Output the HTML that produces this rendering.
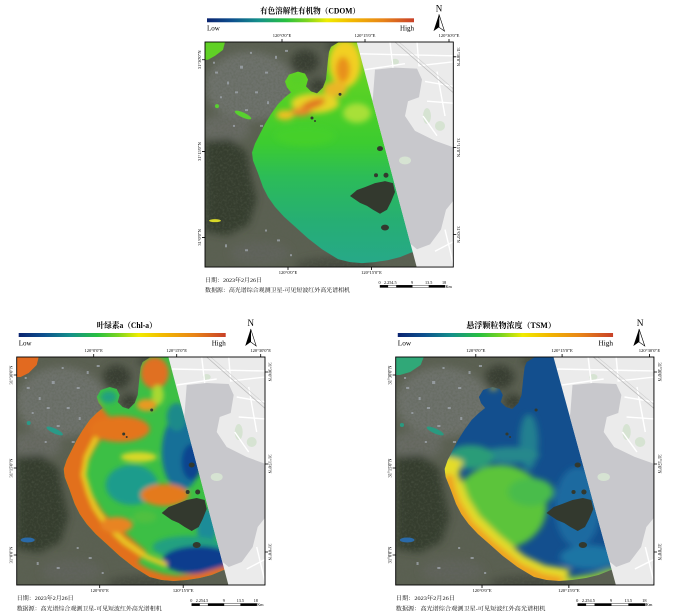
<!DOCTYPE html>
<html><head><meta charset="utf-8"><style>
html,body{margin:0;padding:0;background:#fff;width:673px;height:615px;overflow:hidden}
svg{display:block}
text{font-family:"Liberation Serif","Noto Serif CJK SC",serif;fill:#000}
</style></head><body>
<svg width="673" height="615" viewBox="0 0 673 615" xmlns="http://www.w3.org/2000/svg">
<defs>
<linearGradient id="cb" x1="0" y1="0" x2="1" y2="0">
<stop offset="0" stop-color="#0b2470"/><stop offset=".12" stop-color="#0d4f8e"/><stop offset=".25" stop-color="#14908a"/>
<stop offset=".38" stop-color="#28c040"/><stop offset=".48" stop-color="#7ad420"/><stop offset=".58" stop-color="#f0ec00"/>
<stop offset=".7" stop-color="#f2b800"/><stop offset=".85" stop-color="#e88418"/><stop offset="1" stop-color="#c84028"/>
</linearGradient>
<linearGradient id="gC" gradientUnits="userSpaceOnUse" x1="0" y1="0" x2="0" y2="228">
<stop offset="0" stop-color="#78d620"/><stop offset=".3" stop-color="#4ccf28"/><stop offset=".45" stop-color="#3ccc30"/>
<stop offset=".6" stop-color="#2cbc58"/><stop offset=".8" stop-color="#26ae74"/><stop offset="1" stop-color="#27a88a"/>
</linearGradient>
<filter id="b2" x="-30%" y="-30%" width="160%" height="160%"><feGaussianBlur stdDeviation="2.5"/></filter>
<filter id="b3" x="-30%" y="-30%" width="160%" height="160%"><feGaussianBlur stdDeviation="3"/></filter>
<filter id="b4" x="-30%" y="-30%" width="160%" height="160%"><feGaussianBlur stdDeviation="4"/></filter>
<filter id="tx" x="0" y="0" width="100%" height="100%">
<feTurbulence type="fractalNoise" baseFrequency="0.45" numOctaves="2" seed="5"/>
<feColorMatrix type="matrix" values="0 0 0 0 0.1  0 0 0 0 0.12  0 0 0 0 0.08  0 0 0 -2.2 1.3"/>
</filter>
<clipPath id="lk"><path d="M126,5 L134,0 L248.3,0 L248.3,228 L215,214 L207,213 L195,218 L183,221 L170,223 L157,224 L145,223 L133,220 L117,210 L103,199 L90,187 L79,177 L70,167 L63,157 L58,147 L53,133 L48,120 L47,112 L50,103 L55,93 L60,83 L66,73 L73,63 L80,56 L86,51 L82,46 L80,40 L84,33 L93,30 L100,32 L103,38 L101,45 L106,50 L112,52 L118,46 L121,38 L122,28 L123,18 L124,10 Z"/></clipPath>
<clipPath id="gc"><polygon points="151.7,0 248.3,0 248.3,228 211.7,228"/></clipPath>
<clipPath id="frc"><rect x="0" y="0" width="248.3" height="228"/></clipPath>

<g id="land">
<rect width="248.3" height="228" fill="#5b6052"/>
<g filter="url(#b4)">
<ellipse cx="45" cy="45" rx="45" ry="35" fill="#6e726c"/>
<ellipse cx="20" cy="88" rx="25" ry="14" fill="#686b63"/>
<path d="M0,100 L25,98 L42,112 L46,135 L52,160 L44,185 L22,196 L0,192Z" fill="#343c2e"/>
<ellipse cx="100" cy="20" rx="14" ry="12" fill="#383e32"/>
<ellipse cx="113" cy="45" rx="9" ry="8" fill="#373c31"/>
<ellipse cx="130" cy="226" rx="40" ry="8" fill="#474c40"/>
<ellipse cx="55" cy="214" rx="30" ry="12" fill="#60635b"/>
<ellipse cx="140" cy="4" rx="20" ry="6" fill="#40463a"/>
</g>
<rect width="248.3" height="228" filter="url(#tx)" opacity=".4"/>
<g fill="#a2a8b0" opacity=".75">
<rect x="10" y="30" width="3" height="2"/><rect x="22" y="40" width="2" height="3"/><rect x="35" y="24" width="3" height="3"/>
<rect x="50" y="50" width="3" height="2"/><rect x="15" y="55" width="2" height="2"/><rect x="60" y="30" width="3" height="2"/>
<rect x="70" y="14" width="2" height="3"/><rect x="40" y="68" width="3" height="2"/><rect x="28" y="84" width="2" height="2"/>
<rect x="55" y="84" width="3" height="2"/><rect x="8" y="20" width="2" height="2"/><rect x="80" y="8" width="3" height="2"/>
<rect x="45" y="10" width="2" height="2"/><rect x="62" y="60" width="2" height="3"/><rect x="30" y="50" width="3" height="2"/>
<rect x="72" y="200" width="3" height="2"/><rect x="60" y="190" width="2" height="2"/><rect x="40" y="210" width="3" height="2"/>
<rect x="85" y="215" width="2" height="2"/><rect x="20" y="205" width="2" height="3"/>
</g>
</g>

<g id="isl" fill="#33392e">
<path d="M145,156 L152,150 L160,147 L170,143 L180,141 L188,143 L190,152 L186,162 L182,170 L175,174 L168,170 L162,166 L155,163Z"/>
<ellipse cx="175" cy="108" rx="3" ry="2.5"/><circle cx="171" cy="135" r="2"/><circle cx="181" cy="135" r="2.5"/>
<ellipse cx="180" cy="188" rx="4" ry="3"/><circle cx="107" cy="77" r="1.5"/><circle cx="135" cy="53" r="1.5"/><circle cx="110" cy="80" r="1"/>
</g>

<g id="gm">
<g clip-path="url(#gc)">
<rect width="249" height="228" fill="#ebebeb"/>
<path d="M170,28 L190,26 L212,27 L217,38 L214,56 L203,60 L200,75 L210,90 L230,100 L249,107 L249,160 L241,170 L236,190 L225,205 L212,210 L200,200 L185,175 L170,140 L160,100 L165,80 L168,55Z" fill="#c8c8cc"/>
<g fill="#d6e3d2"><ellipse cx="222" cy="75" rx="4" ry="8"/><ellipse cx="235" cy="85" rx="5" ry="5"/><ellipse cx="200" cy="120" rx="6" ry="4"/><ellipse cx="190" cy="20" rx="4" ry="3"/></g>
<g stroke="#fff" stroke-width="1.4" fill="none">
<path d="M155,12 L249,14"/><path d="M160,28 L200,22"/><path d="M185,0 L188,26"/><path d="M212,0 L214,24 L249,20"/>
<path d="M220,40 L249,45"/><path d="M222,60 L249,62"/><path d="M218,75 L232,95"/><path d="M232,30 L240,75"/>
<path d="M230,212 L249,202"/><path d="M240,190 L249,228"/>
</g>
<path d="M190,0 L249,52" stroke="#bdbdbd" stroke-width=".8" fill="none"/>
<path d="M194,0 L249,48" stroke="#cfcfcf" stroke-width=".6" fill="none"/>
</g>
</g>

<g id="frm" fill="none" stroke="#000">
<rect x="0" y="0" width="248.3" height="228" stroke-width=".9"/>
<path d="M77,0v-3M160,0v-3M244,0v-3M83,228v3M166.5,228v3M0,18h-3M0,111h-3M0,198h-3M248.3,15h3M248.3,107h3M248.3,195h3" stroke-width=".8"/>
</g>

<g id="sb">
<rect x="175" y="246.5" width="65" height="2.2" fill="#fff" stroke="#000" stroke-width=".4"/>
<rect x="175" y="246.5" width="8.1" height="2.2" fill="#000"/>
<rect x="191.2" y="246.5" width="16.3" height="2.2" fill="#000"/>
<rect x="223.7" y="246.5" width="16.3" height="2.2" fill="#000"/>
</g>

<g id="na">
<path d="M234,-28 L228.5,-11 L234,-15 Z" fill="#000"/>
<path d="M234,-28 L239.5,-11 L234,-15 Z" fill="#fff" stroke="#000" stroke-width=".6"/>
</g>
</defs>

<rect width="673" height="615" fill="#fff"/>

<!-- ============ PANEL 1 : CDOM ============ -->
<g transform="translate(205,42) scale(1,0.987)">
<g clip-path="url(#frc)">
<use href="#land"/>
<path d="M0,0 L20,0 L18,8 L10,14 L3,18 L0,18Z" fill="#60d025"/>
<ellipse cx="38" cy="74" rx="9" ry="2.5" transform="rotate(25 38 74)" fill="#58d030"/>
<circle cx="12" cy="65" r="2" fill="#58d030"/>
<ellipse cx="10" cy="181" rx="6" ry="1.5" fill="#d8d828"/>
</g>
<g clip-path="url(#lk)">
<rect width="250" height="228" fill="url(#gC)"/>
<g filter="url(#b3)">
<ellipse cx="100" cy="95" rx="30" ry="10" fill="#44d02c"/>
<ellipse cx="152" cy="72" rx="14" ry="10" fill="#a8e038"/>
<ellipse cx="140" cy="22" rx="16" ry="24" fill="#f2d020"/>
<ellipse cx="138" cy="28" rx="7" ry="13" fill="#e8901e"/>
<ellipse cx="130" cy="48" rx="12" ry="8" fill="#eab628"/>
<ellipse cx="110" cy="62" rx="24" ry="10" fill="#e8d428"/>
<ellipse cx="108" cy="63" rx="13" ry="4.5" transform="rotate(-20 108 63)" fill="#e07422"/>
<ellipse cx="95" cy="71" rx="11" ry="4" fill="#e8882a"/>
<ellipse cx="80" cy="74" rx="9" ry="5" fill="#f0c020"/>
<ellipse cx="92" cy="38" rx="9" ry="7" fill="#58d028"/>
</g>
</g>
<use href="#isl"/>
<use href="#gm"/>
<use href="#frm"/>
<use href="#sb"/>
<use href="#na"/>
<g font-size="4.5" text-anchor="middle">
<text x="77" y="-5">120°0'0"E</text><text x="160" y="-5">120°15'0"E</text><text x="244" y="-5">120°30'0"E</text>
<text x="83" y="235">120°0'0"E</text><text x="166.5" y="235">120°15'0"E</text>
<text transform="translate(-4,18) rotate(-90)">31°30'0"N</text><text transform="translate(-4,111) rotate(-90)">31°15'0"N</text><text transform="translate(-4,198) rotate(-90)">31°0'0"N</text>
<text transform="translate(252,15) rotate(90)">31°30'0"N</text><text transform="translate(252,107) rotate(90)">31°15'0"N</text><text transform="translate(252,195) rotate(90)">31°0'0"N</text>
</g>
<g font-size="4.2"><text x="173.5" y="245">0</text><text x="179" y="245">2.254.5</text><text x="206" y="245">9</text><text x="220" y="245">13.5</text><text x="237" y="245">18</text><text x="240.5" y="249">Km</text></g>
<text x="0" y="243" font-size="5.6" textLength="57" lengthAdjust="spacingAndGlyphs">日期：2023年2月26日</text>
<text x="0" y="253.5" font-size="5.6" textLength="145" lengthAdjust="spacingAndGlyphs">数据源：高光谱综合观测卫星-可见短波红外高光谱相机</text>
<rect x="2" y="-24" width="207" height="4" fill="url(#cb)"/>
<text x="2" y="-11.5" font-size="7">Low</text>
<text x="209" y="-11.5" font-size="7" text-anchor="end">High</text>
<text x="105" y="-29" font-size="8" text-anchor="middle" font-weight="bold" textLength="100" lengthAdjust="spacingAndGlyphs">有色溶解性有机物（CDOM）</text>
<text x="234" y="-31" font-size="9" text-anchor="middle" font-family="Liberation Sans, sans-serif">N</text>
</g>

<!-- ============ PANEL 2 : Chl-a ============ -->
<g transform="translate(16.7,357)">
<g clip-path="url(#frc)">
<use href="#land"/>
<path d="M0,0 L22,0 L20,8 L12,16 L4,20 L0,20Z" fill="#e26a20"/>
<ellipse cx="38" cy="74" rx="9" ry="2.5" transform="rotate(25 38 74)" fill="#2a9a88"/>
<circle cx="12" cy="66" r="2" fill="#2a9a88"/>
<ellipse cx="11" cy="183" rx="7" ry="2.5" fill="#2a6aa8"/>
</g>
<g clip-path="url(#lk)">
<rect width="250" height="228" fill="#3cbf45"/>
<g filter="url(#b2)">
<ellipse cx="115" cy="128" rx="26" ry="20" fill="#1d9c8c"/>
<ellipse cx="165" cy="95" rx="20" ry="38" fill="#127098"/>
<ellipse cx="175" cy="105" rx="10" ry="18" fill="#0b4590"/>
<ellipse cx="160" cy="60" rx="10" ry="14" fill="#1a8a8a"/>
<ellipse cx="190" cy="170" rx="10" ry="18" fill="#1a8c98"/>
<ellipse cx="172" cy="190" rx="36" ry="11" fill="#20a080"/>
<ellipse cx="182" cy="203" rx="36" ry="14" fill="#0a3c8e"/>
<path d="M86,52 L73,63 L60,83 L50,103 L47,118 L53,133 L58,147 L70,167 L90,187 L117,210" fill="none" stroke="#e2701e" stroke-width="40"/>
<path d="M110,206 L130,218 L145,223 L160,225 L185,222 L212,214" fill="none" stroke="#e2701e" stroke-width="12"/>
<path d="M92,62 L80,80 L70,100 L67,118 L72,135 L78,150 L90,168 L108,185 L130,200 L150,208" fill="none" stroke="#e8cc22" stroke-width="5"/>
<ellipse cx="103" cy="72" rx="30" ry="13" fill="#e4741e"/>
<ellipse cx="138" cy="16" rx="14" ry="16" fill="#e07020"/>
<ellipse cx="141" cy="38" rx="6" ry="10" fill="#a8d830"/>
<ellipse cx="130" cy="48" rx="10" ry="6" fill="#e89a24"/>
<ellipse cx="148" cy="138" rx="24" ry="11" fill="#e47a1e"/>
<ellipse cx="122" cy="100" rx="18" ry="5" fill="#d8d828"/>
<ellipse cx="100" cy="168" rx="16" ry="8" fill="#e88420"/>
<ellipse cx="92" cy="40" rx="8" ry="6" fill="#20a080"/>
<ellipse cx="128" cy="160" rx="12" ry="6" fill="#50c040"/>
</g>
</g>
<use href="#isl"/>
<use href="#gm"/>
<use href="#frm"/>
<use href="#sb"/>
<use href="#na"/>
<g font-size="4.5" text-anchor="middle">
<text x="77" y="-5">120°0'0"E</text><text x="160" y="-5">120°15'0"E</text><text x="244" y="-5">120°30'0"E</text>
<text x="83" y="235">120°0'0"E</text><text x="166.5" y="235">120°15'0"E</text>
<text transform="translate(-4,18) rotate(-90)">31°30'0"N</text><text transform="translate(-4,111) rotate(-90)">31°15'0"N</text><text transform="translate(-4,198) rotate(-90)">31°0'0"N</text>
<text transform="translate(252,15) rotate(90)">31°30'0"N</text><text transform="translate(252,107) rotate(90)">31°15'0"N</text><text transform="translate(252,195) rotate(90)">31°0'0"N</text>
</g>
<g font-size="4.2"><text x="173.5" y="245">0</text><text x="179" y="245">2.254.5</text><text x="206" y="245">9</text><text x="220" y="245">13.5</text><text x="237" y="245">18</text><text x="240.5" y="249">Km</text></g>
<text x="0" y="243" font-size="5.6" textLength="57" lengthAdjust="spacingAndGlyphs">日期：2023年2月26日</text>
<text x="0" y="253.5" font-size="5.6" textLength="145" lengthAdjust="spacingAndGlyphs">数据源：高光谱综合观测卫星-可见短波红外高光谱相机</text>
<rect x="2" y="-24" width="207" height="4" fill="url(#cb)"/>
<text x="2" y="-11.5" font-size="7">Low</text>
<text x="209" y="-11.5" font-size="7" text-anchor="end">High</text>
<text x="110" y="-29" font-size="8" text-anchor="middle" font-weight="bold" textLength="60" lengthAdjust="spacingAndGlyphs">叶绿素a（Chl-a）</text>
<text x="234" y="-31" font-size="9" text-anchor="middle" font-family="Liberation Sans, sans-serif">N</text>
</g>

<!-- ============ PANEL 3 : TSM ============ -->
<g transform="translate(395.7,357) scale(1.04,1)">
<g clip-path="url(#frc)">
<use href="#land"/>
<path d="M0,0 L27,0 L24,8 L14,15 L4,18 L0,18Z" fill="#30a878"/>
<ellipse cx="38" cy="74" rx="9" ry="2.5" transform="rotate(25 38 74)" fill="#2a9a80"/>
<circle cx="6" cy="68" r="2" fill="#2a9a80"/>
<ellipse cx="11" cy="183" rx="7" ry="2.5" fill="#2a6aa8"/>
</g>
<g clip-path="url(#lk)">
<rect width="250" height="228" fill="#134f8e"/>
<g filter="url(#b3)">
<ellipse cx="128" cy="85" rx="9" ry="28" fill="#238090"/>
<ellipse cx="110" cy="98" rx="28" ry="8" fill="#28888c"/>
<ellipse cx="72" cy="100" rx="22" ry="12" fill="#2a9c78"/>
<ellipse cx="100" cy="150" rx="45" ry="42" fill="#5cc43a"/>
<ellipse cx="130" cy="135" rx="22" ry="14" fill="#48bc4c"/>
<ellipse cx="175" cy="150" rx="22" ry="40" fill="#1a6aa0"/>
<ellipse cx="186" cy="200" rx="28" ry="12" fill="#1c74a4"/>
<path d="M52,100 L47,118 L53,133 L58,147 L70,167 L90,187 L117,210 L140,221 L165,225" fill="none" stroke="#e4dc2a" stroke-width="26"/>
<path d="M50,118 L53,133 L58,147 L70,167 L90,187 L117,210 L140,221 L160,225" fill="none" stroke="#eea020" stroke-width="10"/>
<path d="M165,225 L190,221 L212,214" fill="none" stroke="#9cd030" stroke-width="8"/>
<ellipse cx="94" cy="31" rx="3" ry="2.5" fill="#e8c020"/>
</g>
</g>
<use href="#isl"/>
<use href="#gm"/>
<use href="#frm"/>
<use href="#sb"/>
<use href="#na"/>
<g font-size="4.5" text-anchor="middle">
<text x="77" y="-5">120°0'0"E</text><text x="160" y="-5">120°15'0"E</text><text x="244" y="-5">120°30'0"E</text>
<text x="83" y="235">120°0'0"E</text><text x="166.5" y="235">120°15'0"E</text>
<text transform="translate(-4,18) rotate(-90)">31°30'0"N</text><text transform="translate(-4,111) rotate(-90)">31°15'0"N</text><text transform="translate(-4,198) rotate(-90)">31°0'0"N</text>
<text transform="translate(252,15) rotate(90)">31°30'0"N</text><text transform="translate(252,107) rotate(90)">31°15'0"N</text><text transform="translate(252,195) rotate(90)">31°0'0"N</text>
</g>
<g font-size="4.2"><text x="173.5" y="245">0</text><text x="179" y="245">2.254.5</text><text x="206" y="245">9</text><text x="220" y="245">13.5</text><text x="237" y="245">18</text><text x="240.5" y="249">Km</text></g>
<text x="0" y="243" font-size="5.6" textLength="57" lengthAdjust="spacingAndGlyphs">日期：2023年2月26日</text>
<text x="0" y="253.5" font-size="5.6" textLength="144" lengthAdjust="spacingAndGlyphs">数据源：高光谱综合观测卫星-可见短波红外高光谱相机</text>
<rect x="2" y="-24" width="207" height="4" fill="url(#cb)"/>
<text x="2" y="-11.5" font-size="7">Low</text>
<text x="209" y="-11.5" font-size="7" text-anchor="end">High</text>
<text x="111" y="-29" font-size="8" text-anchor="middle" font-weight="bold" textLength="86" lengthAdjust="spacingAndGlyphs">悬浮颗粒物浓度（TSM）</text>
<text x="235" y="-31" font-size="9" text-anchor="middle" font-family="Liberation Sans, sans-serif">N</text>
</g>
</svg>
</body></html>
